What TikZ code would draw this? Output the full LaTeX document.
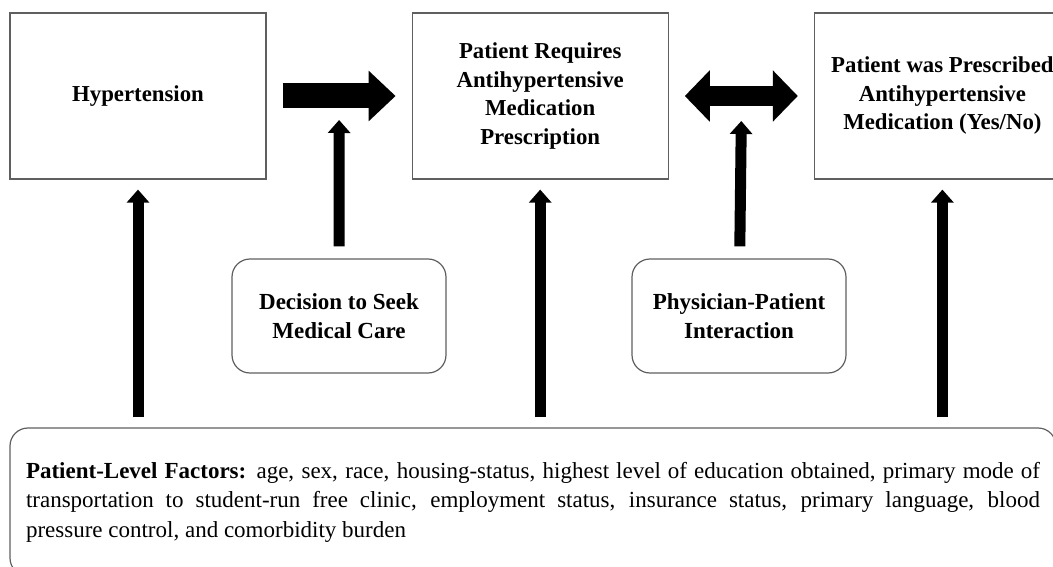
\documentclass[tikz,border=0pt]{standalone}
\usepackage{fontspec}
\setmainfont{Liberation Serif}
\usetikzlibrary{arrows.meta}
\usetikzlibrary{positioning}
\definecolor{boxgray}{RGB}{95,95,95}

\begin{document}
\begin{tikzpicture}[x=1pt, y=-1pt,
        box/.style = {draw=boxgray, line width=1.2pt, minimum width=256pt, minimum height=166pt,
            align=center, font=\bfseries\fontsize{22.8}{28.5}\selectfont},
        roundbox/.style = {draw=boxgray, line width=1.2pt, rounded corners=18pt, minimum width=214pt,
            minimum height=114pt, align=center, font=\bfseries\fontsize{23}{29}\selectfont},
        fatarrow/.style = {line width=25pt, -{Triangle[length=27pt, width=49pt]}, shorten <=16pt, shorten >=16pt},
        twoway/.style = {line width=20pt, {Triangle[length=25pt, width=50pt]}-{Triangle[length=25pt, width=50pt]},
            shorten <=16pt, shorten >=16pt},
        thinarrow/.style = {line width=11pt, -{Triangle[length=13pt, width=22pt]}}]
    \useasboundingbox (0,0) rectangle (1053,567);
    \clip (0,0) rectangle (1053,567);

    % top row
    \node[box] (hyper) at (138,96) {Hypertension};
    \node[box, right=145pt of hyper] (requires) {Patient Requires\\Antihypertensive\\Medication\\Prescription};
    \node[box, right=145pt of requires] (prescribed) {Patient was Prescribed\\Antihypertensive\\Medication (Yes/No)};

    % middle row
    \node[roundbox] (seek) at (339,316) {Decision to Seek\\Medical Care};
    \node[roundbox] (interact) at (739,316) {Physician-Patient\\Interaction};

    % bottom box
    \node[draw=boxgray, line width=1.2pt, rounded corners=18pt, minimum height=148pt, text width=1014pt,
        inner xsep=16pt, align=justify, font=\fontsize{23}{29.5}\selectfont] (factors) at (533,502)
        {\textbf{Patient-Level Factors:} age, sex, race, housing-status, highest level of education obtained, primary mode of\linebreak
        transportation to student-run free clinic, employment status, insurance status, primary language, blood\linebreak
        pressure control, and comorbidity burden};

    % block arrows
    \draw[fatarrow] (hyper) -- (requires) coordinate[midway] (seekmid);
    \draw[twoway] (requires) -- (prescribed) coordinate[midway] (talkmid);

    \draw[thinarrow, shorten <=12pt] (seek) -- ([yshift=-24pt]seekmid);
    \draw[thinarrow, shorten <=12pt] (interact) -- ([yshift=-25pt]talkmid);

    \foreach \n in {hyper, requires, prescribed}
        \draw[thinarrow, shorten <=10pt, shorten >=10pt] (factors.north -| \n.south) -- (\n.south);
\end{tikzpicture}
\end{document}
